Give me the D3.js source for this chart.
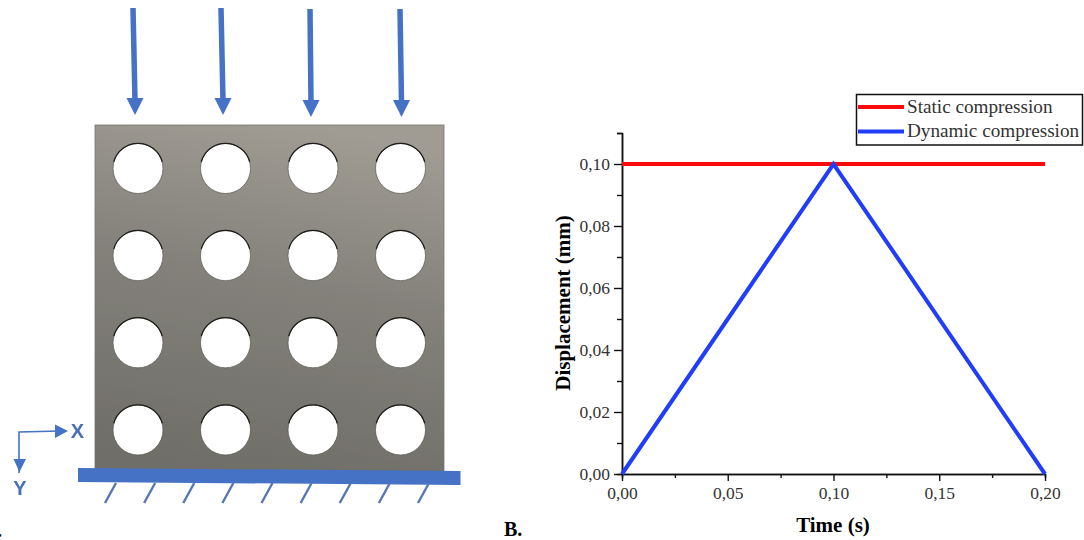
<!DOCTYPE html>
<html>
<head>
<meta charset="utf-8">
<script src="https://cdn.jsdelivr.net/npm/d3@7"></script>
<style>
  html, body { margin: 0; padding: 0; background: #fff; }
  svg { display: block; font-family: "Liberation Serif", serif; }
</style>
</head>
<body>
<svg id="chart" width="1084" height="540"></svg>
<script>
// chart data
const time = [0, 0.1, 0.2];
const dynamicValues = [0, 0.1, 0];
const staticTime = [0, 0.2];
const staticValues = [0.1, 0.1];
const xTicks = [0, 0.05, 0.1, 0.15, 0.2];
const xMinorTicks = [0.025, 0.075, 0.125, 0.175];
const yTicks = [0, 0.02, 0.04, 0.06, 0.08, 0.1];
const yMinorTicks = [0.01, 0.03, 0.05, 0.07, 0.09, 0.11];
const legendNames = ['Static compression', 'Dynamic compression'];
const legendColors = ['#fa0a0a', '#1f3dfa'];

// sketch of the plate on the left
const holeRows = [0, 1, 2, 3];
const holeCols = [0, 1, 2, 3];
const hatchIds = [0, 1, 2, 3, 4, 5, 6, 7, 8];

const svg = d3.select('#chart');
const fmt = d3.formatLocale({decimal: ',', thousands: '.', grouping: [3], currency: ['', '']}).format('.2f');

drawPlate();
drawPlot();

function drawPlate() {
  const blue = '#4472c4';
  const defs = svg.append('defs');
  const grad = defs.append('linearGradient').attr('id', 'plateFill')
    .attr('x1', 0.6).attr('y1', 0).attr('x2', 0.4).attr('y2', 1);
  grad.append('stop').attr('offset', '0%').attr('stop-color', '#a09c94');
  grad.append('stop').attr('offset', '45%').attr('stop-color', '#83817a');
  grad.append('stop').attr('offset', '100%').attr('stop-color', '#6f6e68');
  defs.append('filter').attr('id', 'soft').append('feGaussianBlur').attr('stdDeviation', 0.5);

  const g = svg.append('g').attr('filter', 'url(#soft)');

  g.append('rect')
    .attr('x', 95).attr('y', 125).attr('width', 349).attr('height', 347)
    .attr('fill', 'url(#plateFill)').attr('stroke', '#77756f').attr('stroke-width', 0.8);

  const hx = d3.scalePoint().domain(holeCols).range([138, 400.5]);
  const hy = d3.scalePoint().domain(holeRows).range([168.5, 430]);
  const rim = d3.arc().innerRadius(24.6).outerRadius(25.8).startAngle(-1.3).endAngle(1.3);
  holeRows.forEach((r) => {
    g.selectAll(null).data(holeCols).join('circle')
      .attr('cx', (c) => hx(c)).attr('cy', hy(r)).attr('r', 25)
      .attr('fill', '#fff').attr('stroke', '#55544f').attr('stroke-width', 0.7);
    g.selectAll(null).data(holeCols).join('path')
      .attr('transform', (c) => `translate(${hx(c)},${hy(r)})`)
      .attr('d', rim()).attr('fill', '#1c1c1a');
  });

  // load arrows, they lean a little
  const arrows = [[133, 8, 135, 115], [221, 8, 223, 115], [310, 9, 311, 117], [400, 9, 401.5, 117]];
  arrows.forEach(([x0, y0, x1, y1]) => {
    g.append('line').attr('x1', x0).attr('y1', y0).attr('x2', x1).attr('y2', y1 - 14)
      .attr('stroke', blue).attr('stroke-width', 5.5);
    g.append('path')
      .attr('d', `M${x1 - 8.5},${y1 - 17}L${x1 + 8.5},${y1 - 17}L${x1},${y1}Z`)
      .attr('fill', blue);
  });

  // fixed support
  g.append('path').attr('d', 'M78,468L460.5,471L460.5,485L78,482Z').attr('fill', blue);
  const hatch = d3.scalePoint().domain(hatchIds).range([105, 418]);
  g.selectAll(null).data(hatchIds).join('line')
    .attr('x1', (d) => hatch(d)).attr('y1', 503)
    .attr('x2', (d) => hatch(d) + 11).attr('y2', 483)
    .attr('stroke', '#5577b8').attr('stroke-width', 2.4);

  // axes marker
  g.append('path').attr('d', 'M19,473L19,432L60,431').attr('fill', 'none').attr('stroke', blue).attr('stroke-width', 1.6);
  g.append('path').attr('d', 'M55,424.5L68,431L55,438Z').attr('fill', blue);
  g.append('path').attr('d', 'M13.5,459L26,459L19.5,472Z').attr('fill', blue);
  g.append('text').attr('x', 77.5).attr('y', 438).attr('text-anchor', 'middle')
    .attr('font-family', 'Liberation Sans').attr('font-weight', 'bold')
    .attr('font-size', 20).attr('fill', '#4a6fb5').text('X');
  g.append('text').attr('x', 20).attr('y', 495).attr('text-anchor', 'middle')
    .attr('font-family', 'Liberation Sans').attr('font-weight', 'bold')
    .attr('font-size', 20).attr('fill', '#4a6fb5').text('Y');

  svg.append('text').attr('x', 2).attr('y', 537).attr('text-anchor', 'end')
    .attr('font-weight', 'bold').attr('font-size', 19).text('A.');
}

function drawPlot() {
  const x = d3.scaleLinear().domain([0, 0.2]).range([622, 1045]);
  const y = d3.scaleLinear().domain([0, 0.11]).range([474, 133]);

  const line = d3.line().x((d) => x(d[0])).y((d) => y(d[1]));

  svg.append('g').attr('transform', 'translate(0,474)')
    .call(d3.axisBottom(x).tickValues(xMinorTicks).tickSize(4).tickFormat(''));
  const xMajor = svg.append('g').attr('transform', 'translate(0,474)')
    .call(d3.axisBottom(x).tickValues(xTicks).tickSize(7).tickSizeOuter(0).tickFormat(fmt));

  svg.append('g').attr('transform', 'translate(622,0)')
    .call(d3.axisLeft(y).tickValues(yMinorTicks).tickSize(5).tickFormat(''));
  const yMajor = svg.append('g').attr('transform', 'translate(622,0)')
    .call(d3.axisLeft(y).tickValues(yTicks).tickSize(8).tickSizeOuter(0).tickFormat(fmt));

  svg.selectAll('.tick line').attr('stroke', '#111').attr('stroke-width', 1.4);
  svg.selectAll('.domain').attr('stroke', '#111').attr('stroke-width', 1.5);
  [xMajor, yMajor].forEach((a) => {
    a.selectAll('text')
      .attr('font-family', '"Liberation Serif", serif')
      .attr('font-size', 17.5)
      .attr('fill', '#333');
  });
  xMajor.selectAll('text').attr('dy', '0.71em').attr('y', 13);
  yMajor.selectAll('text').attr('x', -12);

  svg.append('path')
    .datum(staticTime.map((t, i) => [t, staticValues[i]]))
    .attr('d', line).attr('fill', 'none')
    .attr('stroke', legendColors[0]).attr('stroke-width', 4);

  svg.append('path')
    .datum(time.map((t, i) => [t, dynamicValues[i]]))
    .attr('d', line).attr('fill', 'none')
    .attr('stroke', legendColors[1]).attr('stroke-width', 4);

  svg.append('text')
    .attr('transform', 'translate(570,303) rotate(-90)')
    .attr('text-anchor', 'middle').attr('font-weight', 'bold').attr('font-size', 21)
    .text('Displacement (mm)');
  svg.append('text')
    .attr('x', 833).attr('y', 531.5)
    .attr('text-anchor', 'middle').attr('font-weight', 'bold').attr('font-size', 21)
    .text('Time (s)');
  svg.append('text')
    .attr('x', 504).attr('y', 535.5)
    .attr('font-weight', 'bold').attr('font-size', 20)
    .text('B.');

  // legend
  const legend = svg.append('g');
  legend.append('rect')
    .attr('x', 856.5).attr('y', 94.5).attr('width', 226).attr('height', 50.5)
    .attr('fill', '#fff').attr('stroke', '#111').attr('stroke-width', 1.5);
  const ly = d3.scalePoint().domain(legendNames).range([107, 131.5]);
  legend.selectAll('line').data(legendNames).join('line')
    .attr('x1', 858).attr('x2', 904)
    .attr('y1', (d) => ly(d)).attr('y2', (d) => ly(d))
    .attr('stroke', (d, i) => legendColors[i]).attr('stroke-width', 4);
  legend.selectAll('text').data(legendNames).join('text')
    .attr('x', 907).attr('y', (d) => ly(d) + 5.5)
    .attr('font-size', 19.2).attr('fill', '#333')
    .text((d) => d);
}
</script>
</body>
</html>
